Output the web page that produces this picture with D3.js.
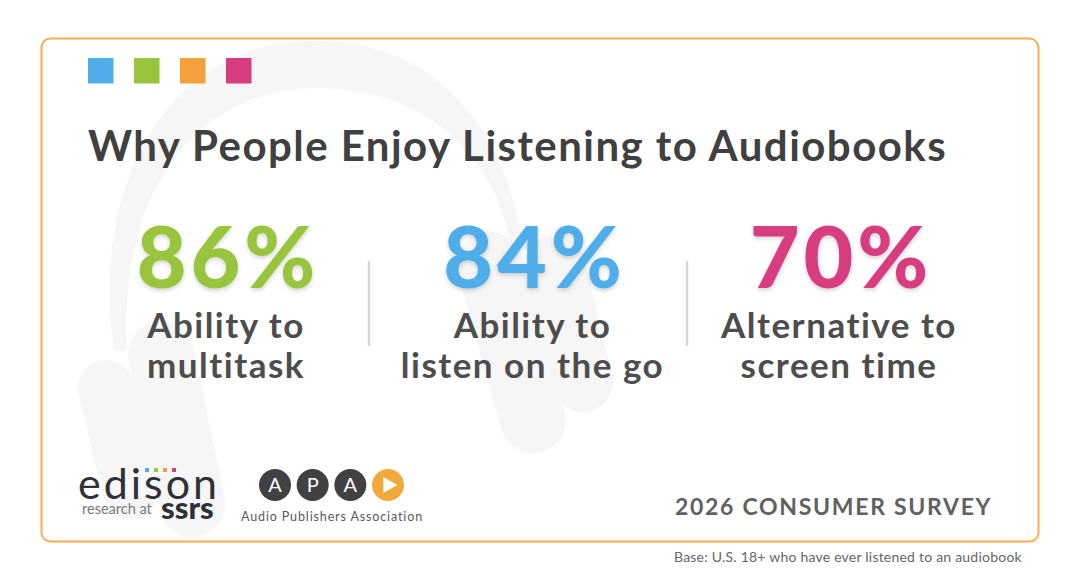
<!DOCTYPE html>
<html>
<head>
<meta charset="utf-8">
<script src="https://cdnjs.cloudflare.com/ajax/libs/d3/7.8.5/d3.min.js"></script>
<style>
html, body { margin: 0; padding: 0; background: #fff; }
text { font-family: Lato, "Open Sans", sans-serif; }
</style>
</head>
<body>
<div id="vis"></div>
<script>
const reasons = ['multitask', 'go', 'screen'];
const values = [86, 84, 70];
const labelsTop = ['Ability to', 'Ability to', 'Alternative to'];
const labelsBottom = ['multitask', 'listen on the go', 'screen time'];
const valueColors = ['#98c53d', '#4fadea', '#d83c80'];
const swatches = ['#4fadea', '#98c53d', '#f4a03c', '#d83c80'];
const apaLetters = ['A', 'P', 'A'];
const edisonDots = ['#4fadea', '#98c53d', '#f4a03c', '#d83c80'];

const width = 1080;
const height = 577;

const svg = d3.select('#vis')
    .append('svg')
    .attr('width', width)
    .attr('height', height)
    .style('display', 'block');

const defs = svg.append('defs');
const shadow = defs.append('filter').attr('id', 'soft').attr('x', '-10%').attr('y', '-10%').attr('width', '120%').attr('height', '130%');
shadow.append('feDropShadow').attr('dx', 0).attr('dy', 2).attr('stdDeviation', 2).attr('flood-color', '#000').attr('flood-opacity', 0.18);

// Card
svg.append('rect')
    .attr('x', 41.5).attr('y', 38.5)
    .attr('width', 997).attr('height', 503)
    .attr('rx', 9)
    .style('fill', '#fff')
    .attr('stroke', '#f5ad4e')
    .attr('stroke-width', 2);

// Headphones watermark
const phoneGrey = '#f6f6f6';
svg.append('path')
    .attr('d', 'M114 350 C92 210 150 41 317 41 C430 41 502 120 522 240 L510 240 C492 150 420 88 317 88 C205 88 118 180 127 350 Z')
    .style('fill', phoneGrey);
const cups = [
    [106, 388, 131, 492, 56],
    [161, 354, 192, 504, 66],
    [490, 265, 533, 420, 66],
    [555, 265, 583, 382, 60]
];
svg.selectAll('.cup').data(cups).join('line')
    .attr('class', 'cup')
    .attr('x1', d => d[0]).attr('y1', d => d[1])
    .attr('x2', d => d[2]).attr('y2', d => d[3])
    .attr('stroke-width', d => d[4])
    .attr('stroke-linecap', 'round')
    .attr('stroke', phoneGrey);

// Colour swatches
const swatchX = d3.scalePoint().domain(d3.range(swatches.length)).range([88, 226]);
svg.selectAll('.swatch').data(swatches).join('rect')
    .attr('class', 'swatch')
    .attr('x', (d, i) => swatchX(i))
    .attr('y', 58)
    .attr('width', 25.5).attr('height', 25.5)
    .style('fill', d => d);

// Title
svg.append('text')
    .attr('x', 88).attr('y', 161)
    .style('font-size', '42px').style('font-weight', 700)
    .style('letter-spacing', '1.45px')
    .style('fill', '#404040')
    .text('Why People Enjoy Listening to Audiobooks');

// Columns
const x = d3.scalePoint().domain(reasons).range([226, 839]);

svg.selectAll('.value').data(values).join('text')
    .attr('class', 'value')
    .attr('x', (d, i) => x(reasons[i]) + 2)
    .attr('y', 288)
    .attr('text-anchor', 'middle')
    .attr('filter', 'url(#soft)')
    .style('font-size', '86px').style('font-weight', 900)
    .style('letter-spacing', '3.8px')
    .style('fill', (d, i) => valueColors[i])
    .text(d => d + '%');

svg.selectAll('.label-top').data(labelsTop).join('text')
    .attr('class', 'label-top')
    .attr('x', (d, i) => x(reasons[i]))
    .attr('y', 338)
    .attr('text-anchor', 'middle')
    .style('font-size', '35px').style('font-weight', 700)
    .style('letter-spacing', '1.5px')
    .style('fill', '#4d4d4d')
    .text(d => d);

svg.selectAll('.label-bottom').data(labelsBottom).join('text')
    .attr('class', 'label-bottom')
    .attr('x', (d, i) => x(reasons[i]))
    .attr('y', 378)
    .attr('text-anchor', 'middle')
    .style('font-size', '35px').style('font-weight', 700)
    .style('letter-spacing', '1.5px')
    .style('fill', '#4d4d4d')
    .text(d => d);

// Dividers
svg.selectAll('.divider').data([369, 687]).join('line')
    .attr('class', 'divider')
    .attr('x1', d => d).attr('x2', d => d)
    .attr('y1', 261).attr('y2', 346)
    .attr('stroke', '#d6d6d6')
    .attr('stroke-width', 2.5);

// Edison logo
svg.append('text')
    .attr('x', 78).attr('y', 499)
    .style('font-size', '43px').style('font-weight', 400)
    .style('letter-spacing', '3px')
    .style('fill', '#2f3138')
    .text('edison');
svg.selectAll('.edison-dot').data(edisonDots).join('rect')
    .attr('class', 'edison-dot')
    .attr('x', (d, i) => 145 + i * 9)
    .attr('y', 468)
    .attr('width', 4).attr('height', 4)
    .style('fill', d => d);
svg.append('text')
    .attr('x', 82).attr('y', 514)
    .style('font-size', '14.5px').style('font-weight', 400)
    .style('fill', '#77787c')
    .text('research at');
svg.append('text')
    .attr('x', 161).attr('y', 519)
    .style('font-size', '31px').style('font-weight', 900)
    .style('fill', '#2f3138')
    .text('ssrs');

// APA logo
const apaX = d3.scalePoint().domain(d3.range(4)).range([275, 388]);
svg.selectAll('.apa-circle').data(d3.range(4)).join('circle')
    .attr('class', 'apa-circle')
    .attr('cx', d => apaX(d)).attr('cy', 485)
    .attr('r', 16)
    .style('fill', d => d === 3 ? '#f2a93b' : '#414042');
svg.selectAll('.apa-letter').data(apaLetters).join('text')
    .attr('class', 'apa-letter')
    .attr('x', (d, i) => apaX(i)).attr('y', 492)
    .attr('text-anchor', 'middle')
    .style('font-size', '20px').style('font-weight', 400)
    .style('fill', '#fff')
    .text(d => d);
svg.append('path')
    .attr('d', d3.symbol(d3.symbolTriangle, 110))
    .attr('transform', `translate(${apaX(3)},485) rotate(90)`)
    .style('fill', '#fff');
svg.append('text')
    .attr('x', 241).attr('y', 521)
    .style('font-size', '12.5px').style('letter-spacing', '0.87px')
    .style('fill', '#58595b')
    .text('Audio Publishers Association');

// Footer
svg.append('text')
    .attr('x', 675).attr('y', 515)
    .style('font-size', '23px').style('font-weight', 700)
    .style('letter-spacing', '1.7px')
    .style('fill', '#616161')
    .text('2026 CONSUMER SURVEY');
svg.append('text')
    .attr('x', 674).attr('y', 562)
    .style('font-size', '14px')
    .style('letter-spacing', '0.22px')
    .style('fill', '#666')
    .text('Base: U.S. 18+ who have ever listened to an audiobook');
</script>
</body>
</html>
